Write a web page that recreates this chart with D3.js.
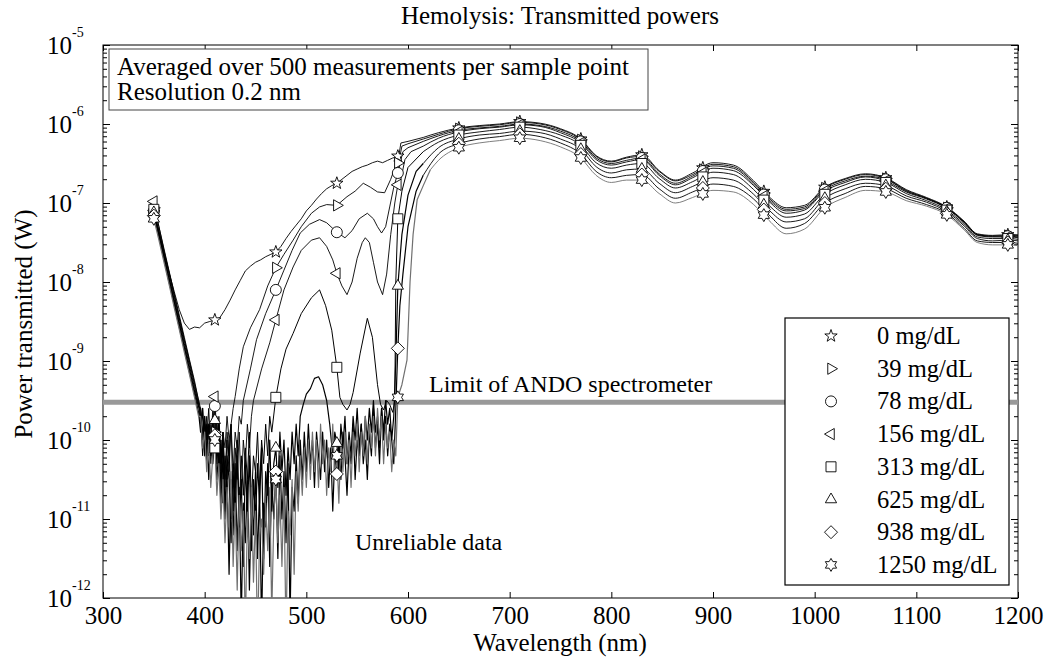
<!DOCTYPE html>
<html>
<head>
<meta charset="utf-8">
<script src="https://cdn.jsdelivr.net/npm/d3@7"></script>
<style>
body { margin: 0; background: #fff; }
text { font-family: "Liberation Serif", "Times New Roman", serif; fill: #000; }
</style>
</head>
<body>
<div id="chart"></div>
<script>
// values are log10 of power (W)
var names = ["0 mg/dL", "39 mg/dL", "78 mg/dL", "156 mg/dL", "313 mg/dL", "625 mg/dL", "938 mg/dL", "1250 mg/dL"];
var markers = ["pentagram", "right", "circle", "left", "square", "up", "diamond", "hexagram"];
var xTicks = [300, 400, 500, 600, 700, 800, 900, 1000, 1100, 1200];
var limitValue = 3e-10;

// visible part, [wavelength, log10 P] where the signal is above the floor
var s0 = [[350,-7.12],[355,-7.35],[360,-7.62],[365,-7.88],[370,-8.12],[375,-8.35],[380,-8.52],[385,-8.6],[390,-8.57],[395,-8.58],[400,-8.52],[405,-8.5],[410,-8.48],[415,-8.45],[420,-8.35],[425,-8.23],[430,-8.1],[435,-7.98],[440,-7.86],[445,-7.8],[450,-7.75],[455,-7.72],[460,-7.68],[465,-7.65],[470,-7.62],[475,-7.55],[480,-7.45],[485,-7.36],[490,-7.28],[495,-7.2],[500,-7.1],[505,-7.03],[510,-6.95],[515,-6.88],[520,-6.82],[525,-6.78],[530,-6.75],[535,-6.7],[540,-6.65],[545,-6.6],[550,-6.57],[555,-6.54],[560,-6.52],[565,-6.49],[570,-6.47],[575,-6.49],[580,-6.46],[585,-6.43],[588,-6.42],[591,-6.40],[593,-6.24],[600,-6.22],[615,-6.17]];
var s39 = [[350,-7.06],[355,-7.3],[360,-7.58],[365,-7.86],[370,-8.14],[375,-8.42],[380,-8.7],[385,-8.98],[390,-9.25],[394,-9.5],[430,-9.45],[434,-9.1],[438,-8.82],[445,-8.58],[454,-8.35],[462,-8.05],[470,-7.82],[478,-7.65],[487,-7.47],[495,-7.3],[505,-7.13],[513,-7.05],[520,-7.02],[530,-7.03],[540,-6.92],[548,-6.85],[556,-6.75],[563,-6.8],[570,-6.86],[577,-6.87],[583,-6.7],[588,-6.52],[591,-6.48],[594,-6.28],[600,-6.25],[615,-6.19]];
var s78 = [[350,-7.1],[355,-7.36],[360,-7.63],[365,-7.9],[370,-8.18],[375,-8.46],[380,-8.74],[385,-9.02],[390,-9.3],[394,-9.55],[438,-9.5],[445,-9.1],[451,-8.73],[460,-8.4],[470,-8.1],[478,-7.85],[486,-7.6],[494,-7.38],[503,-7.27],[513,-7.21],[520,-7.25],[530,-7.37],[538,-7.44],[545,-7.35],[552,-7.2],[560,-7.13],[566,-7.2],[570,-7.3],[574,-7.38],[578,-7.3],[582,-7.05],[586,-6.8],[590,-6.62],[595,-6.35],[600,-6.3],[615,-6.22]];
var s156 = [[350,-6.98],[355,-7.3],[360,-7.6],[365,-7.88],[370,-8.16],[375,-8.45],[380,-8.73],[385,-9.0],[390,-9.28],[394,-9.5],[448,-9.5],[456,-9.1],[464,-8.77],[470,-8.48],[478,-8.1],[487,-7.81],[495,-7.6],[505,-7.47],[513,-7.44],[520,-7.55],[526,-7.72],[530,-7.89],[535,-8.05],[540,-8.16],[545,-8.0],[550,-7.7],[555,-7.5],[558,-7.44],[562,-7.5],[566,-7.75],[570,-8.0],[575,-8.16],[579,-7.9],[583,-7.4],[587,-7.0],[590,-6.77],[593,-6.7],[597,-6.45],[603,-6.35],[615,-6.28]];
var s313 = [[350,-7.08],[355,-7.38],[360,-7.66],[365,-7.94],[370,-8.22],[375,-8.5],[380,-8.78],[385,-9.06],[390,-9.34],[394,-9.55],[470,-9.46],[475,-9.1],[480,-8.85],[487,-8.65],[495,-8.4],[505,-8.2],[513,-8.1],[519,-8.3],[525,-8.61],[530,-9.08],[533,-9.46],[536,-9.55],[540,-9.62],[543,-9.55],[546,-9.4],[553,-8.9],[560,-8.46],[565,-8.7],[570,-9.3],[573,-9.55],[576,-9.62],[579,-9.5],[582,-9.55],[585,-9.65],[587,-9.5],[588,-8.0],[590,-7.2],[594,-6.85],[600,-6.55],[615,-6.35]];
var s625 = [[350,-7.12],[355,-7.4],[360,-7.68],[365,-7.96],[370,-8.25],[375,-8.53],[380,-8.82],[385,-9.1],[390,-9.38],[394,-9.58],[497,-9.55],[500,-9.42],[504,-9.35],[508,-9.22],[512,-9.2],[516,-9.3],[520,-9.5],[523,-9.8],[588,-9.0],[590,-8.05],[594,-7.4],[600,-6.9],[608,-6.6],[615,-6.5]];
var s938 = [[350,-7.16],[355,-7.43],[360,-7.71],[365,-8.0],[370,-8.28],[375,-8.57],[380,-8.85],[385,-9.14],[390,-9.42],[394,-9.65],[588,-9.6],[589,-9.2],[590,-8.84],[592,-8.3],[595,-7.9],[600,-7.3],[608,-6.85],[615,-6.65]];
var s1250 = [[350,-7.2],[355,-7.47],[360,-7.75],[365,-8.03],[370,-8.32],[375,-8.6],[380,-8.89],[385,-9.17],[390,-9.46],[394,-9.7],[590,-9.46],[594,-9.3],[599,-8.99],[602,-8.0],[605,-7.4],[609,-6.96],[615,-6.78],[622,-6.58]];

// noise floor readings, every 2 nm from the start wavelength
var n39 = [-9.7,-10.0,-9.8,-10.3,-9.9,-10.1,-9.6,-9.9,-10.2,-9.8,-10.4,-9.9,-10.1,-9.7,-10.0,-9.8,-9.6];
var n78 = [-9.8,-9.6,-10.1,-9.7,-10.2,-9.8,-10.0,-9.57,-10.1,-9.8,-10.3,-9.9,-10.5,-9.9,-10.2,-9.8,-10.4,-9.9,-10.1,-9.7,-9.8];
var n156 = [-9.6,-9.9,-9.7,-10.1,-9.8,-10.3,-9.9,-9.45,-10.0,-9.7,-10.2,-9.9,-10.6,-10.0,-10.4,-9.8,-10.9,-10.1,-10.5,-9.9,-10.7,-10.0,-10.3,-9.8,-10.1,-9.7];
var n313 = [-9.7,-10.2,-9.8,-10.0,-9.6,-10.2,-9.8,-10.1,-9.7,-10.4,-10.0,-10.8,-10.2,-10.5,-10.0,-11.0,-10.3,-10.6,-10.0,-10.9,-10.2,-10.7,-10.1,-10.5,-9.9,-10.8,-10.2,-10.4,-9.9,-10.6,-10.0,-10.3,-9.8,-10.2,-9.7,-9.9];
var n625a = [-9.6,-10.0,-9.7,-10.2,-9.8,-10.1,-9.7,-9.75,-10.3,-9.9,-10.6,-10.0,-10.9,-10.2,-10.5,-11.3,-10.4,-10.9,-10.2,-11.1,-10.5,-11.6,-10.3,-10.9,-10.2,-11.4,-10.5,-11.0,-10.3,-10.8,-10.1,-11.5,-10.4,-10.7,-10.0,-10.9,-10.3,-10.1,-10.6,-9.9,-10.4,-10.0,-10.7,-10.1,-10.5,-9.9,-10.3,-9.8,-10.2,-9.7];
var n625b = [-10.2,-9.9,-10.04,-10.4,-9.8,-10.1,-9.7,-10.3,-9.9,-10.2,-9.7,-10.0,-9.6,-10.1,-9.8,-10.2,-9.7,-10.0,-9.6,-9.9,-9.5,-9.9,-9.7,-10.1,-9.6,-9.9,-9.5,-9.8,-9.6,-10.0,-9.7];
var n938 = [-9.9,-9.6,-10.2,-9.8,-10.5,-9.9,-10.3,-9.94,-10.5,-10.1,-10.8,-10.2,-11.0,-10.4,-11.7,-10.5,-11.2,-10.3,-11.4,-10.6,-12.3,-10.8,-11.3,-10.5,-11.9,-10.7,-11.2,-10.4,-11.5,-10.6,-12.4,-10.8,-11.1,-10.3,-11.6,-10.5,-11.0,-10.4,-11.5,-10.2,-11.0,-10.4,-11.3,-10.3,-12.3,-10.6,-10.9,-10.2,-10.8,-10.0,-10.5,-9.9,-10.4,-9.8,-10.3,-10.0,-10.6,-9.9,-10.2,-10.5,-9.9,-10.4,-10.0,-10.6,-10.1,-10.9,-10.2,-10.43,-10.0,-10.5,-9.9,-10.2,-10.7,-10.1,-10.3,-9.8,-10.5,-10.0,-10.2,-9.8,-10.3,-10.0,-10.5,-9.9,-10.2,-9.6,-10.1,-9.8,-10.3,-9.6,-10.0,-9.7,-10.2,-9.8,-10.0,-10.3];
var n1250 = [-9.7,-10.1,-9.9,-10.4,-10.0,-10.6,-10.2,-10.0,-10.7,-10.3,-11.0,-10.5,-11.3,-10.6,-11.1,-10.4,-11.6,-10.8,-11.9,-10.7,-11.4,-10.9,-12.4,-11.0,-11.5,-10.6,-11.8,-10.9,-12.6,-11.2,-11.0,-11.7,-10.8,-11.4,-10.6,-12.2,-11.0,-10.5,-11.3,-10.7,-11.6,-10.6,-12.5,-10.9,-11.2,-10.5,-11.7,-10.4,-10.9,-10.2,-10.7,-10.1,-10.6,-10.0,-10.5,-9.9,-10.4,-10.0,-10.6,-9.8,-10.3,-10.0,-10.7,-10.1,-10.4,-9.8,-10.5,-10.2,-10.8,-10.0,-10.4,-9.9,-10.3,-10.0,-10.6,-9.9,-10.2,-9.8,-10.4,-9.9,-10.2,-9.7,-10.3,-9.8,-10.1,-9.7,-10.2,-9.6,-10.0,-9.7,-10.3,-9.8,-10.1,-9.9,-10.4,-10.0,-10.2];

// near infrared part
var irWl = [630,650,670,690,710,730,750,770,785,800,815,830,847,863,880,900,920,940,955,972,990,1010,1030,1050,1070,1090,1110,1130,1147,1160,1175,1192,1200];
var ir0 = [-6.11,-6.05,-6.02,-6.00,-5.97,-5.99,-6.06,-6.19,-6.40,-6.47,-6.42,-6.39,-6.59,-6.71,-6.62,-6.49,-6.52,-6.72,-6.92,-7.06,-7.03,-6.80,-6.69,-6.63,-6.68,-6.83,-6.93,-7.05,-7.23,-7.39,-7.41,-7.40,-7.41];
var ir39 = [-6.13,-6.06,-6.03,-6.01,-5.98,-6.00,-6.07,-6.20,-6.41,-6.48,-6.43,-6.41,-6.60,-6.72,-6.64,-6.51,-6.54,-6.74,-6.94,-7.08,-7.05,-6.81,-6.70,-6.64,-6.69,-6.84,-6.94,-7.06,-7.24,-7.40,-7.42,-7.41,-7.42];
var ir78 = [-6.15,-6.08,-6.05,-6.03,-6.00,-6.02,-6.09,-6.22,-6.43,-6.50,-6.46,-6.43,-6.63,-6.75,-6.66,-6.53,-6.56,-6.76,-6.96,-7.10,-7.07,-6.83,-6.72,-6.66,-6.70,-6.85,-6.94,-7.06,-7.24,-7.40,-7.42,-7.42,-7.43];
var ir156 = [-6.18,-6.10,-6.06,-6.04,-6.01,-6.03,-6.11,-6.24,-6.45,-6.52,-6.48,-6.45,-6.65,-6.77,-6.68,-6.56,-6.59,-6.78,-6.98,-7.13,-7.09,-6.85,-6.74,-6.67,-6.72,-6.86,-6.95,-7.07,-7.25,-7.41,-7.43,-7.43,-7.44];
var ir313 = [-6.23,-6.14,-6.10,-6.07,-6.04,-6.07,-6.14,-6.27,-6.49,-6.56,-6.52,-6.50,-6.69,-6.81,-6.73,-6.61,-6.64,-6.83,-7.03,-7.18,-7.14,-6.89,-6.77,-6.70,-6.74,-6.88,-6.97,-7.09,-7.27,-7.43,-7.45,-7.45,-7.46];
var ir625 = [-6.30,-6.19,-6.14,-6.12,-6.09,-6.11,-6.19,-6.32,-6.54,-6.62,-6.58,-6.57,-6.75,-6.87,-6.79,-6.68,-6.71,-6.89,-7.09,-7.24,-7.20,-6.94,-6.82,-6.75,-6.78,-6.91,-6.99,-7.11,-7.29,-7.45,-7.48,-7.47,-7.48];
var ir938 = [-6.38,-6.25,-6.19,-6.16,-6.13,-6.16,-6.24,-6.38,-6.60,-6.68,-6.65,-6.64,-6.82,-6.94,-6.86,-6.76,-6.79,-6.95,-7.15,-7.32,-7.26,-7.00,-6.88,-6.79,-6.82,-6.94,-7.02,-7.13,-7.32,-7.48,-7.50,-7.50,-7.51];
var ir1250 = [-6.46,-6.30,-6.24,-6.21,-6.18,-6.21,-6.29,-6.43,-6.65,-6.74,-6.71,-6.71,-6.88,-7.00,-6.93,-6.84,-6.86,-7.02,-7.22,-7.39,-7.33,-7.06,-6.93,-6.84,-6.86,-6.97,-7.04,-7.15,-7.34,-7.50,-7.53,-7.53,-7.54];

var series = [
    { vis: s0, noise: [], ir: ir0 },
    { vis: s39, noise: [[396, n39]], ir: ir39 },
    { vis: s78, noise: [[396, n78]], ir: ir78 },
    { vis: s156, noise: [[396, n156]], ir: ir156 },
    { vis: s313, noise: [[396, n313]], ir: ir313 },
    { vis: s625, noise: [[396, n625a], [526, n625b]], ir: ir625 },
    { vis: s938, noise: [[396, n938]], ir: ir938 },
    { vis: s1250, noise: [[396, n1250]], ir: ir1250 }
];
var lineColors = ["#000", "#000", "#000", "#000", "#000", "#000", "#000", "#707070"];
var visWidths = [0.9, 0.9, 0.9, 0.9, 1, 1.2, 1.2, 1.2];

//*******************************************************
var W = 1046, H = 666;
var pL = 103, pR = 1018, pT = 45, pB = 598;
var fontPx = 25;

var x = d3.scaleLinear().domain([300, 1200]).range([pL, pR]);
var y = d3.scaleLog().domain([1e-12, 1e-5]).range([pB, pT]);

var svg = d3.select("#chart").append("svg")
    .attr("width", W)
    .attr("height", H);

svg.append("defs").append("clipPath").attr("id", "plotclip")
    .append("rect")
    .attr("x", pL).attr("y", pT)
    .attr("width", pR - pL).attr("height", pB - pT);

// marker shapes, size = radius
function poly(ctx, pts) {
    pts.forEach(function (p, i) { if (i) ctx.lineTo(p[0], p[1]); else ctx.moveTo(p[0], p[1]); });
    ctx.closePath();
}
function starPts(n, R, r) {
    var pts = [];
    for (var i = 0; i < 2 * n; i++) {
        var a = -Math.PI / 2 + i * Math.PI / n, rr = i % 2 ? r : R;
        pts.push([rr * Math.cos(a), rr * Math.sin(a)]);
    }
    return pts;
}
function triPts(R, rot) {
    var pts = [];
    for (var i = 0; i < 3; i++) {
        var a = rot + i * 2 * Math.PI / 3;
        pts.push([R * Math.cos(a), R * Math.sin(a)]);
    }
    return pts;
}
var symbolTypes = {
    pentagram: { draw: function (c, s) { poly(c, starPts(5, s, s * 0.4)); } },
    hexagram: { draw: function (c, s) { poly(c, starPts(6, s, s * 0.58)); } },
    circle: { draw: function (c, s) { c.moveTo(s, 0); c.arc(0, 0, s, 0, 2 * Math.PI); } },
    square: { draw: function (c, s) { c.rect(-s, -s, 2 * s, 2 * s); } },
    diamond: { draw: function (c, s) { poly(c, [[0, -s], [s, 0], [0, s], [-s, 0]]); } },
    up: { draw: function (c, s) { poly(c, triPts(s, -Math.PI / 2)); } },
    right: { draw: function (c, s) { poly(c, triPts(s, 0)); } },
    left: { draw: function (c, s) { poly(c, triPts(s, Math.PI)); } }
};
var markerSize = { pentagram: 6.5, hexagram: 6.5, circle: 5.5, square: 5, diamond: 6.5, up: 6.5, right: 6.5, left: 6.5 };

function markerPath(m) {
    return d3.symbol().type(symbolTypes[m]).size(markerSize[m])();
}

// build points of each series
series.forEach(function (s) {
    var pts = s.vis.slice();
    s.noise.forEach(function (n) {
        n[1].forEach(function (v, i) { pts.push([n[0] + 2 * i, v]); });
    });
    pts.sort(function (a, b) { return a[0] - b[0]; });
    s.visPts = pts;
    s.irPts = [pts[pts.length - 1]].concat(irWl.map(function (w, i) { return [w, s.ir[i]]; }));
    s.allPts = pts.concat(s.irPts.slice(1));
});

function valueAt(pts, w) {
    for (var i = 0; i < pts.length - 1; i++) {
        if (pts[i][0] <= w && pts[i + 1][0] >= w) {
            var t = (w - pts[i][0]) / (pts[i + 1][0] - pts[i][0]);
            return pts[i][1] + t * (pts[i + 1][1] - pts[i][1]);
        }
    }
    return pts[pts.length - 1][1];
}

var lineLin = d3.line()
    .x(function (d) { return x(d[0]); })
    .y(function (d) { return y(Math.pow(10, d[1])); });
var lineSmooth = d3.line()
    .curve(d3.curveMonotoneX)
    .x(function (d) { return x(d[0]); })
    .y(function (d) { return y(Math.pow(10, d[1])); });

// ********************** axes **************************
var minorVals = [], majorVals = [];
for (var k = -12; k <= -5; k++) {
    majorVals.push(Math.pow(10, k));
    if (k < -5) for (var m = 2; m <= 9; m++) minorVals.push(m * Math.pow(10, k));
}

function styleAxis(g) {
    g.selectAll("path.domain").remove();
    g.selectAll("line").attr("stroke", "#000");
    g.selectAll("text").attr("font-family", "Liberation Serif").attr("font-size", fontPx).attr("fill", "#000");
}

svg.append("g").attr("transform", "translate(0," + pB + ")")
    .call(d3.axisBottom(x).tickValues(xTicks).tickSize(-6).tickSizeOuter(0).tickPadding(8).tickFormat(d3.format("d")))
    .call(styleAxis);
svg.append("g").attr("transform", "translate(0," + pT + ")")
    .call(d3.axisTop(x).tickValues(xTicks).tickSize(-6).tickSizeOuter(0).tickFormat(""))
    .call(styleAxis);

svg.append("g").attr("transform", "translate(" + pL + ",0)")
    .call(d3.axisLeft(y).tickValues(minorVals).tickSize(-4).tickSizeOuter(0).tickFormat(""))
    .call(styleAxis);
svg.append("g").attr("transform", "translate(" + pL + ",0)")
    .call(d3.axisLeft(y).tickValues(majorVals).tickSize(-7).tickSizeOuter(0).tickFormat(""))
    .call(styleAxis);
svg.append("g").attr("transform", "translate(" + pR + ",0)")
    .call(d3.axisRight(y).tickValues(minorVals).tickSize(-4).tickSizeOuter(0).tickFormat(""))
    .call(styleAxis);
svg.append("g").attr("transform", "translate(" + pR + ",0)")
    .call(d3.axisRight(y).tickValues(majorVals).tickSize(-7).tickSizeOuter(0).tickFormat(""))
    .call(styleAxis);

// y tick labels: "10" with a raised exponent
majorVals.forEach(function (v) {
    var t = svg.append("text")
        .attr("x", 47)
        .attr("y", y(v) + 9)
        .attr("font-size", fontPx);
    t.append("tspan").text("10");
    t.append("tspan").attr("dy", -17).attr("font-size", 14).text(String(Math.round(Math.log10(v))));
});

svg.append("rect")
    .attr("x", pL).attr("y", pT)
    .attr("width", pR - pL).attr("height", pB - pT)
    .attr("fill", "none").attr("stroke", "#000").attr("stroke-width", 1);

// ********************** data **************************
var plot = svg.append("g").attr("clip-path", "url(#plotclip)");

plot.append("line")
    .attr("x1", pL).attr("x2", pR)
    .attr("y1", y(limitValue)).attr("y2", y(limitValue))
    .attr("stroke", "#999").attr("stroke-width", 5);

series.forEach(function (s, i) {
    plot.append("path")
        .attr("d", lineLin(s.visPts))
        .attr("fill", "none")
        .attr("stroke", lineColors[i])
        .attr("stroke-width", visWidths[i])
        .attr("stroke-linejoin", "round");
    plot.append("path")
        .attr("d", lineSmooth(s.irPts))
        .attr("fill", "none")
        .attr("stroke", lineColors[i])
        .attr("stroke-width", 0.9);
});

var markWl = d3.range(350, 1191, 60);
series.forEach(function (s, i) {
    plot.selectAll(".mk" + i)
        .data(markWl)
        .enter()
        .append("path")
        .attr("class", "mk" + i)
        .attr("d", markerPath(markers[i]))
        .attr("transform", function (w) {
            return "translate(" + x(w) + "," + y(Math.pow(10, valueAt(s.allPts, w))) + ")";
        })
        .attr("fill", "#fff")
        .attr("stroke", "#000")
        .attr("stroke-width", 0.9);
});

// ********************** text **************************
svg.append("text")
    .attr("x", 560).attr("y", 24)
    .attr("text-anchor", "middle")
    .attr("font-size", fontPx)
    .text("Hemolysis: Transmitted powers");

svg.append("text")
    .attr("x", 560).attr("y", 651)
    .attr("text-anchor", "middle")
    .attr("font-size", fontPx)
    .text("Wavelength (nm)");

svg.append("text")
    .attr("transform", "translate(32,324) rotate(-90)")
    .attr("text-anchor", "middle")
    .attr("font-size", fontPx)
    .text("Power transmitted (W)");

svg.append("rect")
    .attr("x", 109).attr("y", 49)
    .attr("width", 539).attr("height", 61)
    .attr("fill", "#fff").attr("stroke", "#444");
svg.append("text").attr("x", 117).attr("y", 75).attr("font-size", fontPx)
    .text("Averaged over 500 measurements per sample point");
svg.append("text").attr("x", 117).attr("y", 100).attr("font-size", fontPx)
    .text("Resolution 0.2 nm");

svg.append("text").attr("x", 429).attr("y", 392).attr("font-size", 24)
    .text("Limit of ANDO spectrometer");
svg.append("text").attr("x", 355).attr("y", 550).attr("font-size", 24)
    .text("Unreliable data");

// legend
var legX = 785, legY = 318, legW = 224, legH = 267;
var leg = svg.append("g");
leg.append("rect")
    .attr("x", legX).attr("y", legY)
    .attr("width", legW).attr("height", legH)
    .attr("fill", "#fff").attr("stroke", "#000").attr("stroke-width", 1.2);
names.forEach(function (n, i) {
    var base = 344 + i * 32.7;
    leg.append("path")
        .attr("d", markerPath(markers[i]))
        .attr("transform", "translate(831," + (base - 8) + ")")
        .attr("fill", "#fff").attr("stroke", "#000").attr("stroke-width", 0.9);
    leg.append("text")
        .attr("x", 877).attr("y", base)
        .attr("font-size", 24.5)
        .text(n);
});
</script>
</body>
</html>
